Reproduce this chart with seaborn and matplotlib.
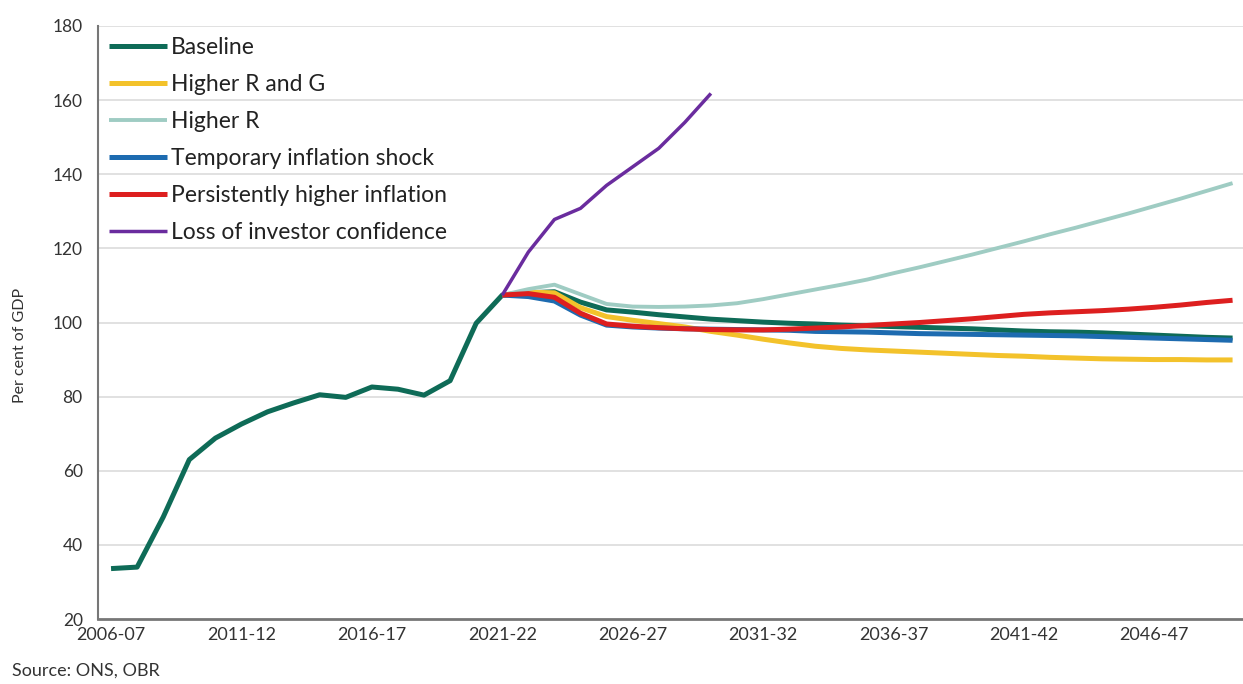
import numpy as np
import pandas as pd
import matplotlib
matplotlib.use("Agg")
import matplotlib.pyplot as plt
import seaborn as sns
from matplotlib.ticker import FixedLocator

# ---------------- data ----------------
years = [f"{y}-{str(y + 1)[-2:]}" for y in range(2006, 2050)]  # 2006-07 .. 2049-50

baseline = [33.6, 34.0, 47.5, 63.0, 68.8, 72.6, 75.9, 78.3, 80.5, 79.8,
            82.6, 82.0, 80.4, 84.3, 99.8, 107.4, 108.0, 108.3, 105.5, 103.4,
            102.8, 102.1, 101.5, 100.9, 100.5, 100.1, 99.8, 99.6, 99.3, 99.1,
            98.9, 98.7, 98.5, 98.3, 98.0, 97.7, 97.5, 97.4, 97.2, 96.9,
            96.6, 96.3, 96.0, 95.8]

# scenarios start in 2021-22
higher_r_and_g = [107.4, 108.2, 108.0, 104.0, 101.6, 100.6, 99.7, 98.8, 97.6, 96.6,
                  95.5, 94.5, 93.6, 93.0, 92.6, 92.3, 92.0, 91.7, 91.4, 91.1,
                  90.9, 90.6, 90.4, 90.2, 90.1, 90.0, 90.0, 89.9, 89.9]
higher_r = [107.4, 109.0, 110.2, 107.6, 105.0, 104.3, 104.2, 104.3, 104.6, 105.2,
            106.3, 107.6, 108.9, 110.2, 111.6, 113.3, 114.9, 116.6, 118.3, 120.1,
            121.9, 123.8, 125.6, 127.5, 129.4, 131.4, 133.4, 135.5, 137.6]
temp_inflation = [107.4, 107.0, 105.8, 102.0, 99.3, 98.8, 98.5, 98.3, 98.2, 98.1,
                  98.0, 97.9, 97.6, 97.5, 97.4, 97.2, 97.0, 96.9, 96.8, 96.7,
                  96.6, 96.5, 96.4, 96.2, 96.0, 95.8, 95.6, 95.4, 95.2]
persistent_inflation = [107.4, 107.8, 106.8, 102.5, 99.6, 99.0, 98.6, 98.3, 98.1, 98.0,
                        98.0, 98.2, 98.5, 98.8, 99.2, 99.6, 100.0, 100.5, 101.0, 101.6,
                        102.2, 102.6, 102.9, 103.2, 103.6, 104.1, 104.7, 105.4, 106.0]
loss_confidence = [107.4, 119.0, 127.8, 130.8, 137.0, 142.0, 147.0, 154.0, 161.8]

scenario_start = "2021-22"

series_names = ["Baseline", "Higher R and G", "Higher R",
                "Temporary inflation shock", "Persistently higher inflation",
                "Loss of investor confidence"]
series_values = [baseline, higher_r_and_g, higher_r, temp_inflation,
                 persistent_inflation, loss_confidence]

colors = ["#0E6B57", "#F3C22B", "#9FCCC3", "#1D6BB0", "#DD1F1F", "#6A2C9E"]
widths = [3.6, 3.6, 2.8, 3.6, 3.6, 2.5]

yticks = [20, 40, 60, 80, 100, 120, 140, 160, 180]
xlabel_every = 5

# ---------------- frame ----------------
rows = []
start_idx = years.index(scenario_start)
for name, vals in zip(series_names, series_values):
    offset = 0 if name == "Baseline" else start_idx
    for i, v in enumerate(vals):
        rows.append({"series": name, "x": offset + i, "value": v})
df = pd.DataFrame(rows)

sns.set_theme(style="white")
plt.rcParams["font.family"] = ["Lato", "DejaVu Sans"]

fig = plt.figure(figsize=(12.43, 6.84), dpi=100)
W, H = 1243, 684
ax = fig.add_axes([98 / W, (H - 619) / H, (1243 - 98) / W, (619 - 26) / H])

handles = []
for name, c, lw in zip(series_names, colors, widths):
    sub = df[df["series"] == name]
    sns.lineplot(data=sub, x="x", y="value", color=c, linewidth=lw, ax=ax,
                 label=name, legend=False, solid_capstyle="butt")
    handles.append(ax.lines[-1])

ax.set_xlim(-0.5, 43.4)
ax.set_ylim(20, 180)
ax.set_yticks(yticks)
ax.set_yticklabels([str(t) for t in yticks], fontsize=12.5, color="#333333")

major = list(range(0, len(years), xlabel_every))
ax.xaxis.set_major_locator(FixedLocator(major))
ax.set_xticklabels([years[i] for i in major], fontsize=13, color="#333333")
ax.xaxis.set_minor_locator(FixedLocator([i - 0.5 for i in range(len(years) + 1)]))
ax.tick_params(axis="x", which="major", length=0, pad=6)
ax.tick_params(axis="x", which="minor", length=5, width=1.2, color="#555555", direction="out")
ax.tick_params(axis="y", which="major", length=5, width=1.2, color="#555555", direction="out", pad=6)

for y in yticks[1:]:
    ax.axhline(y, color="#DCDCDC", linewidth=1.2, zorder=0)

for s in ["top", "right"]:
    ax.spines[s].set_visible(False)
ax.spines["left"].set_color("#777777")
ax.spines["left"].set_linewidth(1.5)
ax.spines["bottom"].set_color("#777777")
ax.spines["bottom"].set_linewidth(2.0)

ax.set_xlabel("")
ax.set_ylabel("Per cent of GDP", fontsize=11.5, color="#333333")
ax.yaxis.set_label_coords(-0.062, 0.462)

leg = ax.legend(handles=handles, labels=series_names, loc="upper left",
                bbox_to_anchor=(0.002, 0.997), frameon=False, fontsize=16.5,
                handlelength=2.5, handletextpad=0.2, labelspacing=0.7,
                borderaxespad=0)
for t in leg.get_texts():
    t.set_color("#222222")

fig.text(12 / W, 1 - 676 / H, "Source: ONS, OBR", fontsize=13, color="#333333",
         va="baseline", ha="left")

fig.savefig("out.png", dpi=100)
